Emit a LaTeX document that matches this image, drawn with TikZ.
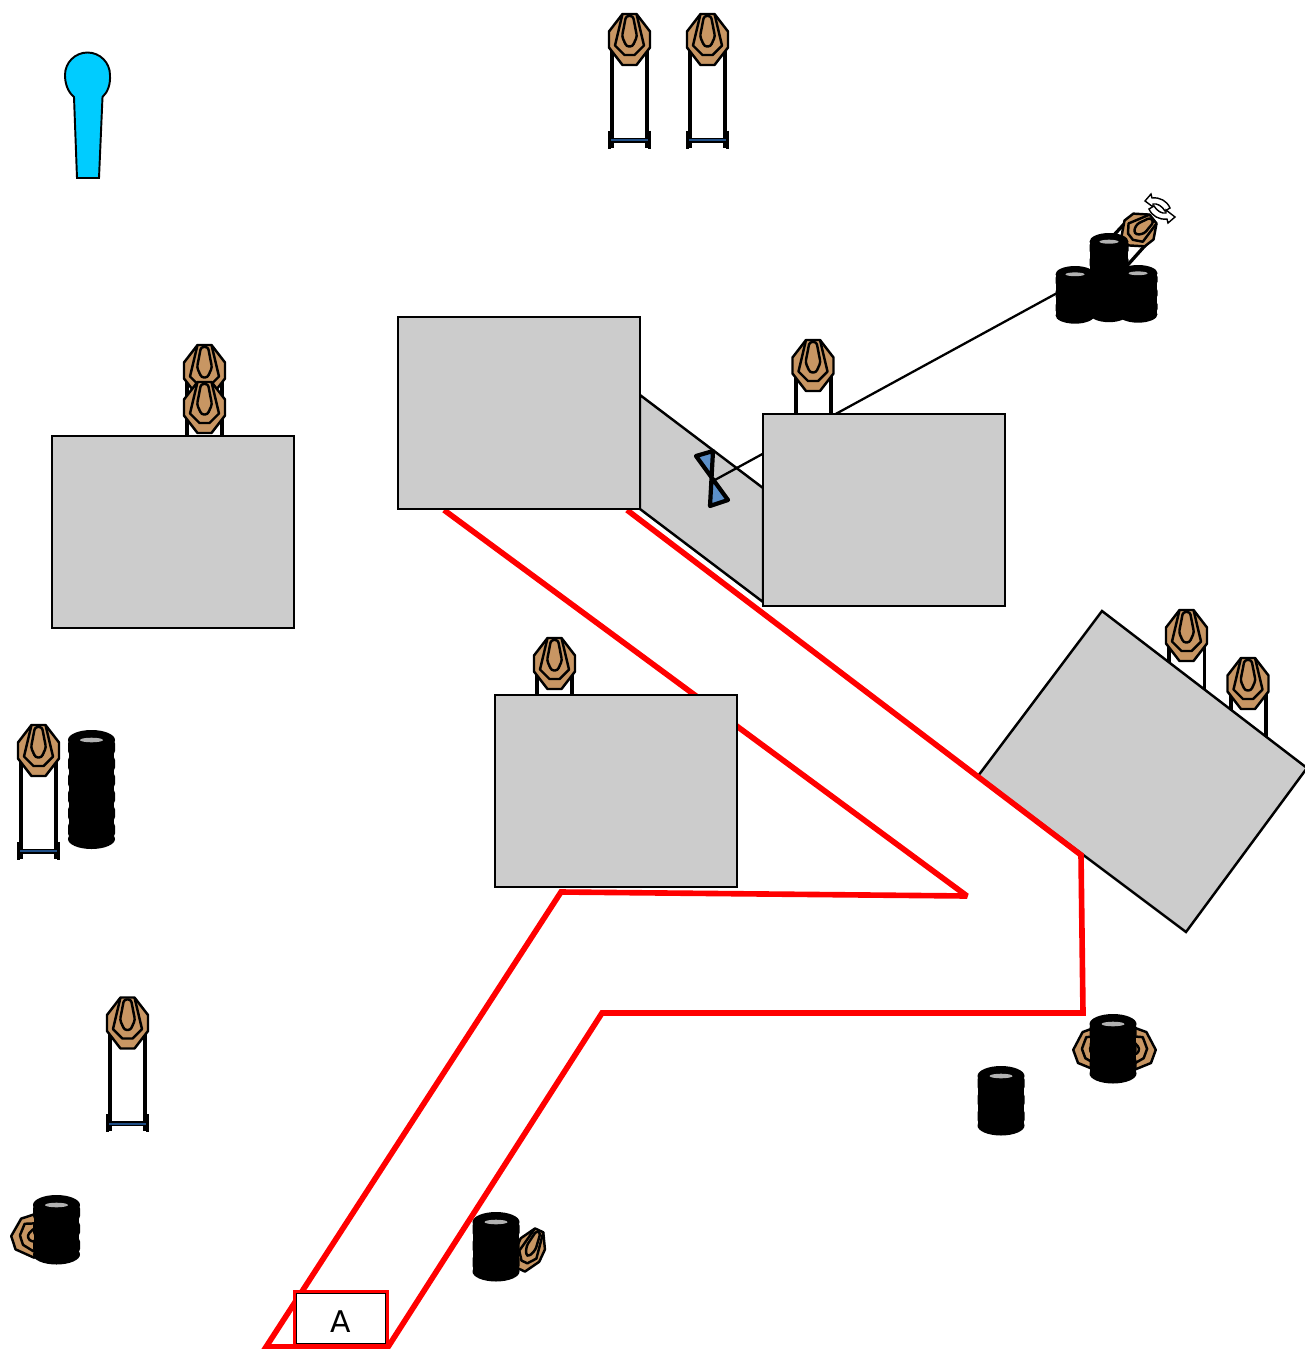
\documentclass[tikz,border=0pt]{standalone}
\usepackage{fontspec}
\setsansfont{DejaVu Sans}
\definecolor{targettan}{HTML}{C89663}
\definecolor{wallgray}{HTML}{CCCCCC}
\definecolor{bowblue}{HTML}{5B8FC9}
\definecolor{basebar}{HTML}{1F4E86}
\definecolor{pincyan}{HTML}{00CCFF}
\tikzset{
  wall/.style={draw=black, fill=wallgray, line width=1.4pt},
  fault/.style={draw=red, line width=3.2pt, miter limit=3},
  leg/.style={draw=black, line width=1.9pt},
  pics/target/.style={code={
    \draw[fill=targettan, line width=1.4pt, line join=round] (-7,-25.5) -- (7,-25.5) -- (20.5,-8) -- (20.5,8) -- (7,25.5) -- (-7,25.5) -- (-20.5,8) -- (-20.5,-8) -- cycle;
    \draw[line width=1.4pt, line join=round] (-7,-25.5) -- (-14.5,6) -- (-5,15.5) -- (5,15.5) -- (14.5,6) -- (7,-25.5);
    \draw[line width=1.4pt, line join=round, rounded corners=1.5pt] (-3.5,-23.5) -- (3.5,-23.5) -- (7.5,-3) -- (3,7) -- (-3,7) -- (-7.5,-3) -- cycle;
  }},
  pics/stand/.style={code={
    \draw[leg] (-17.5,0) -- (-17.5,108);
    \draw[leg] (17.5,0) -- (17.5,108);
    \draw[line width=2pt] (-20,91) -- (-20,109);
    \draw[line width=2pt] (20,91) -- (20,109);
    \draw[draw=black, fill=basebar, line width=.6pt] (-19,99) rectangle (19,102.5);
  }},
  pics/tires/.style={code={
    \fill (-22.8,10) rectangle (22.8,{(#1-1)*16.5+10});
    \foreach \t in {2,...,#1}{
      \fill[rounded corners=2.5pt] (-23.5,{(\t-2)*16.5+9}) rectangle (23.5,{(\t-1)*16.5+9});
    }
    \fill (0,10) ellipse [x radius=23.5, y radius=10];
    \fill (0,{(#1-1)*16.5+10}) ellipse [x radius=23.5, y radius=10];
    \fill[black!30] (0,10) ellipse [x radius=11.5, y radius=2.3];
  }}
}
\begin{document}
\begin{tikzpicture}[x=.02cm, y=-.02cm]
\useasboundingbox (0,0) rectangle (1305,1349);

%% Start pin
\draw[fill=pincyan, line width=1.1pt] (77,178) -- (74,97) .. controls (68,92) and (65,84) .. (65,75) arc [start angle=180, end angle=360, radius=22.5] .. controls (110.5,84) and (108,92) .. (102.5,97) -- (99,178) -- cycle;

%% Targets on stands
\pic at (629.5,39.5) {stand};
\pic at (629.5,39.5) {target};
\pic at (707.5,39.5) {stand};
\pic at (707.5,39.5) {target};
\pic at (38.5,750.5) {stand};
\pic at (38.5,750.5) {target};
\pic at (127.5,1023) {stand};
\pic at (127.5,1023) {target};

%% Targets behind walls
\draw[leg] (187,380) -- (187,440) (222,380) -- (222,440);
\pic at (204.5,370.5) {target};
\pic at (204.5,407.5) {target};
\draw[leg] (796,370) -- (796,418) (831,370) -- (831,418);
\pic at (813,365.5) {target};
\draw[leg] (537,670) -- (537,698) (572,670) -- (572,698);
\pic at (554.5,663.5) {target};
\draw[leg] (1169,640) -- (1169,668) (1204.5,640) -- (1204.5,695);
\pic at (1186.5,635.5) {target};
\draw[leg] (1231,690) -- (1231,715) (1266,690) -- (1266,745);
\pic at (1248,683.5) {target};

%% Swinging target
\draw[line width=1.9pt] (1126,222) -- (1100,250) (1150,240) -- (1125,268);
\pic[rotate=-52, xscale=.8, yscale=.7] at (1139,230) {target};
\draw[fill=white, line width=.8pt, line join=miter] (1145,201) -- (1151,194) -- (1152,198) .. controls (1160,197) and (1167,201) .. (1170,208) -- (1165,211) .. controls (1162,206) and (1157,203) .. (1153,204) -- (1153,207) -- cycle;
\draw[fill=white, line width=.8pt, line join=miter] (1175,217) -- (1168,223) -- (1167,219) .. controls (1159,220) and (1152,216) .. (1149,209) -- (1154,206) .. controls (1157,211) and (1162,214) .. (1166,213) -- (1166,210) -- cycle;

%% Tire stacks
\pic[xscale=.83, yscale=.83] at (1075,266) {tires=4};
\pic[xscale=.83, yscale=.83] at (1138,265) {tires=4};
\pic[xscale=.83, yscale=.87] at (1109,233) {tires=6};
\pic[rotate=-72, yscale=.85] at (34,1236) {target};
\pic at (56.5,1195) {tires=4};
\pic[rotate=-25, xscale=.65, yscale=.85] at (530,1250) {target};
\pic at (496,1212) {tires=4};
\pic[rotate=-70, yscale=.85] at (1096,1049) {target};
\pic[rotate=70, yscale=.85] at (1133,1049) {target};
\pic at (1113,1014) {tires=4};
\pic at (1001,1066) {tires=4};
\pic at (91.5,730) {tires=7};

%% Walls and fault line
\draw[wall] (1102,611) -- (1307,768) -- (1186,932) -- (978,776) -- cycle;
\draw[fault] (444,510) -- (967,896) -- (561,892) -- (266,1347) -- (388,1347) -- (602,1013) -- (1083,1013) -- (1081,855) -- (627,510);
\draw[wall] (640,395) -- (763,488) -- (763,602) -- (640,509) -- cycle;
\coordinate (swingpivot) at (713,481);
\coordinate (swingend) at (1059,292);
\draw[line width=1.3pt] (swingpivot) -- (swingend);
\draw[wall] (398,317) rectangle (640,509);
\draw[wall] (52,436) rectangle (294,628);
\draw[wall] (763,414) rectangle (1005,606);
\draw[wall] (495,695) rectangle (737,887);

%% Bow tie
\draw[fill=bowblue, line width=2.4pt, line join=round] (696,456) -- (713,451) -- (710,506) -- (728,500) -- cycle;

%% Start box
\node[draw=black, fill=white, line width=.5pt, minimum width=51pt, inner sep=0pt, text=black, font=\sffamily\fontsize{17}{17}\selectfont, text height=22.7pt, text depth=5.7pt] (startbox) at (341,1318) {A};
\draw[fault, line width=2.2pt] (294.5,1291.5) rectangle (387.5,1346);
\end{tikzpicture}
\end{document}
